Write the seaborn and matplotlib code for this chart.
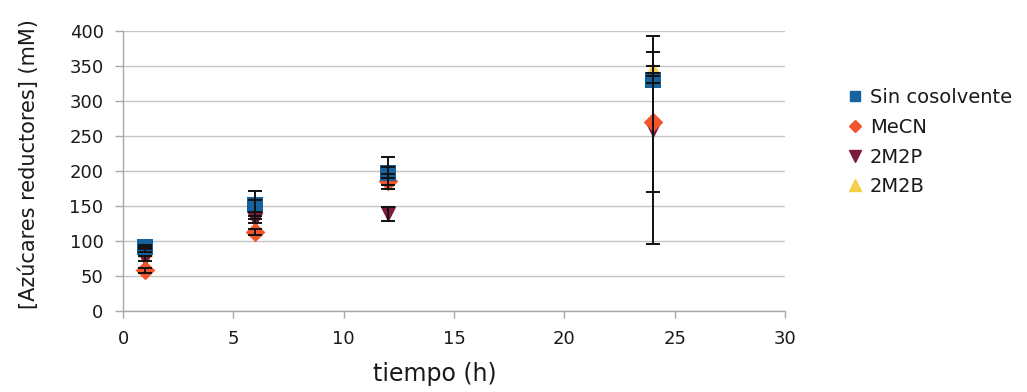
import numpy as np
import pandas as pd
import matplotlib
matplotlib.use("Agg")
import matplotlib.pyplot as plt
import seaborn as sns

# Reducing sugars over time for each cosolvent condition
tiempo = [1, 6, 12, 24]
series = ["Sin cosolvente", "MeCN", "2M2P", "2M2B"]

sin_cosolvente = [92, 152, 197, 330]
sin_cosolvente_err_low = [3, 20, 23, 5]
sin_cosolvente_err_high = [3, 20, 23, 5]
mecn = [58, 113, 185, 270]
mecn_err_low = [3, 4, 5, 100]
mecn_err_high = [3, 4, 5, 100]
m2p = [75, 130, 138, 258]
m2p_err_low = [3, 5, 10, 162]
m2p_err_high = [3, 5, 10, 135]
m2b = [88, 150, 200, 345]
m2b_err_low = [3, 8, 5, 5]
m2b_err_high = [3, 8, 5, 5]

values = {"Sin cosolvente": sin_cosolvente, "MeCN": mecn, "2M2P": m2p, "2M2B": m2b}
err_low = {"Sin cosolvente": sin_cosolvente_err_low, "MeCN": mecn_err_low,
           "2M2P": m2p_err_low, "2M2B": m2b_err_low}
err_high = {"Sin cosolvente": sin_cosolvente_err_high, "MeCN": mecn_err_high,
            "2M2P": m2p_err_high, "2M2B": m2b_err_high}

colors = {"Sin cosolvente": "#15629f", "MeCN": "#f2552c", "2M2P": "#7c1c3c", "2M2B": "#f6cf48"}
markers = {"Sin cosolvente": "s", "MeCN": "D", "2M2P": "v", "2M2B": "^"}
sizes = {"Sin cosolvente": 140, "MeCN": 100, "2M2P": 130, "2M2B": 130}

rows = []
for s in series:
    for t, v, lo, hi in zip(tiempo, values[s], err_low[s], err_high[s]):
        rows.append({"tiempo": t, "valor": v, "lo": lo, "hi": hi, "serie": s})
df = pd.DataFrame(rows)

sns.set_theme(style="white")
plt.rcParams["font.family"] = ["DejaVu Sans"]

fig = plt.figure(figsize=(10.27, 3.92), dpi=100)
ax = fig.add_axes([0.1198, 0.2066, 0.7644 - 0.1198, 0.921 - 0.2066])

draw_order = ["2M2B", "2M2P", "MeCN", "Sin cosolvente"]
for i, s in enumerate(draw_order):
    sub = df[df["serie"] == s]
    sns.scatterplot(data=sub, x="tiempo", y="valor", marker=markers[s],
                    color=colors[s], s=sizes[s], linewidth=0, ax=ax,
                    zorder=3 + i, legend=False)

for s in draw_order:
    sub = df[df["serie"] == s]
    ax.errorbar(sub["tiempo"], sub["valor"], yerr=[sub["lo"], sub["hi"]], fmt="none",
                ecolor="#111111", elinewidth=1.4, capsize=5, capthick=1.4, zorder=10)

ax.set_xlim(0, 30)
ax.set_ylim(0, 400)
ax.set_xticks(np.arange(0, 31, 5))
ax.set_yticks(np.arange(0, 401, 50))
ax.yaxis.grid(True, color="#c4c4c4", linewidth=1)
ax.xaxis.grid(False)
for side in ["top", "right"]:
    ax.spines[side].set_visible(False)
for side in ["left", "bottom"]:
    ax.spines[side].set_color("#a8a8a8")
    ax.spines[side].set_linewidth(1)
ax.tick_params(axis="x", direction="out", length=5, width=1, pad=9,
               color="#a8a8a8", labelsize=13, labelcolor="#1a1a1a", bottom=True)
ax.tick_params(axis="y", direction="out", length=6, width=1, pad=8,
               color="#a8a8a8", labelsize=13, labelcolor="#1a1a1a", left=True)
ax.set_xlabel("tiempo (h)", fontsize=17, color="#1a1a1a")
ax.xaxis.set_label_coords(0.471, -0.182)
ax.set_ylabel("[Azúcares reductores] (mM)", fontsize=15, color="#1a1a1a")
ax.yaxis.set_label_coords(-0.127, 0.525)

handles = [plt.Line2D([], [], marker=markers[s], color=colors[s], linestyle="none",
                      markersize={"s": 7, "D": 6, "v": 8, "^": 8}[markers[s]]) for s in series]
leg = fig.legend(handles, series, loc="upper left", bbox_to_anchor=(0.826, 0.775),
                 frameon=False, fontsize=14, handletextpad=0.4, labelspacing=0.55,
                 handlelength=0.7, borderaxespad=0, borderpad=0)
for t in leg.get_texts():
    t.set_color("#1a1a1a")

fig.savefig("out.png", dpi=100)
